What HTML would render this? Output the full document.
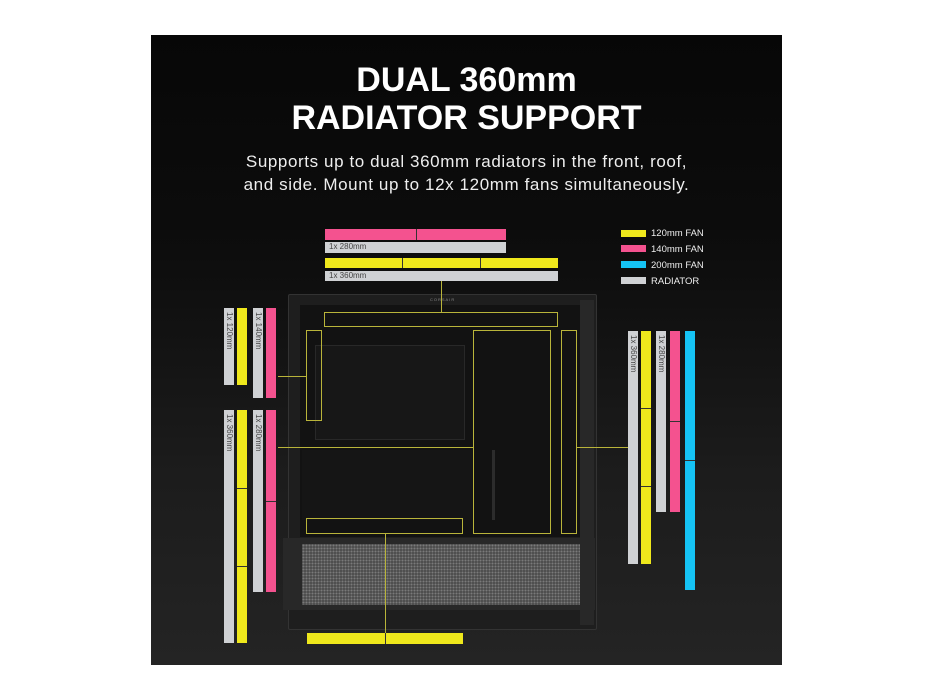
<!DOCTYPE html>
<html><head><meta charset="utf-8"><style>
*{margin:0;padding:0;box-sizing:border-box}
body{width:933px;height:700px;background:#fff;position:relative;overflow:hidden;font-family:"Liberation Sans",sans-serif}
.p{position:absolute}
#panel{left:151px;top:35px;width:631px;height:630px;background:linear-gradient(180deg,#070707 0%,#0d0d0d 35%,#1c1c1c 70%,#242424 100%)}
.y{background:#efe81c}.k{background:#f4528f}.b{background:#15c3f5}.g{background:#cfd1d4}
.lbl{font-size:8px;color:#444;line-height:10px;padding-left:4px}
.v{writing-mode:vertical-rl;font-size:8px;color:#444;padding-top:4px;line-height:10px}
.ol{border:1.5px solid #b9b43a}
.ln{background:#b9b43a}
.dv{background:#333}
.leg{font-size:9.5px;color:#eee;left:651px}
</style></head><body>
<div id="panel" class="p"></div>
<div class="p" style="left:151px;top:61px;width:631px;text-align:center;color:#fff;font-weight:bold;font-size:34px;line-height:38px">DUAL 360mm<br>RADIATOR SUPPORT</div>
<div class="p" style="left:151px;top:150px;width:631px;text-align:center;color:#eee;font-size:17px;line-height:23px;letter-spacing:0.6px">Supports up to dual 360mm radiators in the front, roof,<br>and side. Mount up to 12x 120mm fans simultaneously.</div>

<!-- legend -->
<div class="p y" style="left:621px;top:230px;width:25px;height:7px"></div>
<div class="p k" style="left:621px;top:245px;width:25px;height:7px"></div>
<div class="p b" style="left:621px;top:261px;width:25px;height:7px"></div>
<div class="p g" style="left:621px;top:277px;width:25px;height:7px"></div>
<div class="p leg" style="top:228px">120mm FAN</div>
<div class="p leg" style="top:244px">140mm FAN</div>
<div class="p leg" style="top:260px">200mm FAN</div>
<div class="p leg" style="top:276px">RADIATOR</div>

<!-- top bars -->
<div class="p k" style="left:325px;top:229px;width:181px;height:11px"></div>
<div class="p dv" style="left:416px;top:229px;width:1px;height:11px"></div>
<div class="p g lbl" style="left:325px;top:242px;width:181px;height:11px">1x 280mm</div>
<div class="p y" style="left:325px;top:258px;width:233px;height:10px"></div>
<div class="p dv" style="left:402px;top:258px;width:1px;height:10px"></div>
<div class="p dv" style="left:480px;top:258px;width:1px;height:10px"></div>
<div class="p g lbl" style="left:325px;top:271px;width:233px;height:10px">1x 360mm</div>

<!-- case -->
<div class="p" style="left:288px;top:294px;width:309px;height:336px;background:#1e1e1e;border:1px solid #333;border-radius:2px"></div>
<div class="p" style="left:300px;top:305px;width:280px;height:232px;background:#121212"></div>
<div class="p" style="left:315px;top:345px;width:150px;height:95px;background:#171717;border:1px solid #282828"></div>
<div class="p" style="left:302px;top:450px;width:170px;height:70px;background:#151515"></div>
<div class="p" style="left:580px;top:300px;width:14px;height:325px;background:#282828"></div>
<div class="p" style="left:283px;top:538px;width:312px;height:72px;background:#282828"></div>
<div class="p" style="left:302px;top:544px;width:278px;height:61px;background-color:#444;background-image:radial-gradient(circle,#7a7a7a 1px,transparent 1.3px);background-size:3px 3px"></div>
<div class="p" style="left:492px;top:450px;width:3px;height:70px;background:#2c2c2c"></div>
<div class="p" style="left:430px;top:297px;font-size:4px;color:#888;letter-spacing:1px">CORSAIR</div>

<!-- outlines -->
<div class="p ol" style="left:324px;top:312px;width:234px;height:15px"></div>
<div class="p ol" style="left:306px;top:330px;width:16px;height:91px"></div>
<div class="p ol" style="left:473px;top:330px;width:78px;height:204px"></div>
<div class="p ol" style="left:561px;top:330px;width:16px;height:204px"></div>
<div class="p ol" style="left:306px;top:518px;width:157px;height:16px"></div>
<!-- lines -->
<div class="p ln" style="left:441px;top:281px;width:1px;height:31px"></div>
<div class="p ln" style="left:278px;top:376px;width:28px;height:1px"></div>
<div class="p ln" style="left:278px;top:447px;width:195px;height:1px"></div>
<div class="p ln" style="left:577px;top:447px;width:51px;height:1px"></div>
<div class="p ln" style="left:385px;top:534px;width:1px;height:99px"></div>

<!-- bottom bar -->
<div class="p y" style="left:307px;top:633px;width:156px;height:11px"></div>
<div class="p dv" style="left:385px;top:633px;width:1px;height:11px"></div>

<!-- left bars -->
<div class="p g v" style="left:224px;top:308px;width:10px;height:77px">1x 120mm</div>
<div class="p y" style="left:237px;top:308px;width:10px;height:77px"></div>
<div class="p g v" style="left:253px;top:308px;width:10px;height:90px">1x 140mm</div>
<div class="p k" style="left:266px;top:308px;width:10px;height:90px"></div>
<div class="p g v" style="left:224px;top:410px;width:10px;height:233px">1x 360mm</div>
<div class="p y" style="left:237px;top:410px;width:10px;height:233px"></div>
<div class="p dv" style="left:237px;top:488px;width:10px;height:1px"></div>
<div class="p dv" style="left:237px;top:566px;width:10px;height:1px"></div>
<div class="p g v" style="left:253px;top:410px;width:10px;height:182px">1x 280mm</div>
<div class="p k" style="left:266px;top:410px;width:10px;height:182px"></div>
<div class="p dv" style="left:266px;top:501px;width:10px;height:1px"></div>

<!-- right bars -->
<div class="p g v" style="left:628px;top:331px;width:10px;height:233px">1x 360mm</div>
<div class="p y" style="left:641px;top:331px;width:10px;height:233px"></div>
<div class="p dv" style="left:641px;top:408px;width:10px;height:1px"></div>
<div class="p dv" style="left:641px;top:486px;width:10px;height:1px"></div>
<div class="p g v" style="left:656px;top:331px;width:10px;height:181px">1x 280mm</div>
<div class="p k" style="left:670px;top:331px;width:10px;height:181px"></div>
<div class="p dv" style="left:670px;top:421px;width:10px;height:1px"></div>
<div class="p b" style="left:685px;top:331px;width:10px;height:259px"></div>
<div class="p dv" style="left:685px;top:460px;width:10px;height:1px"></div>
</body></html>
